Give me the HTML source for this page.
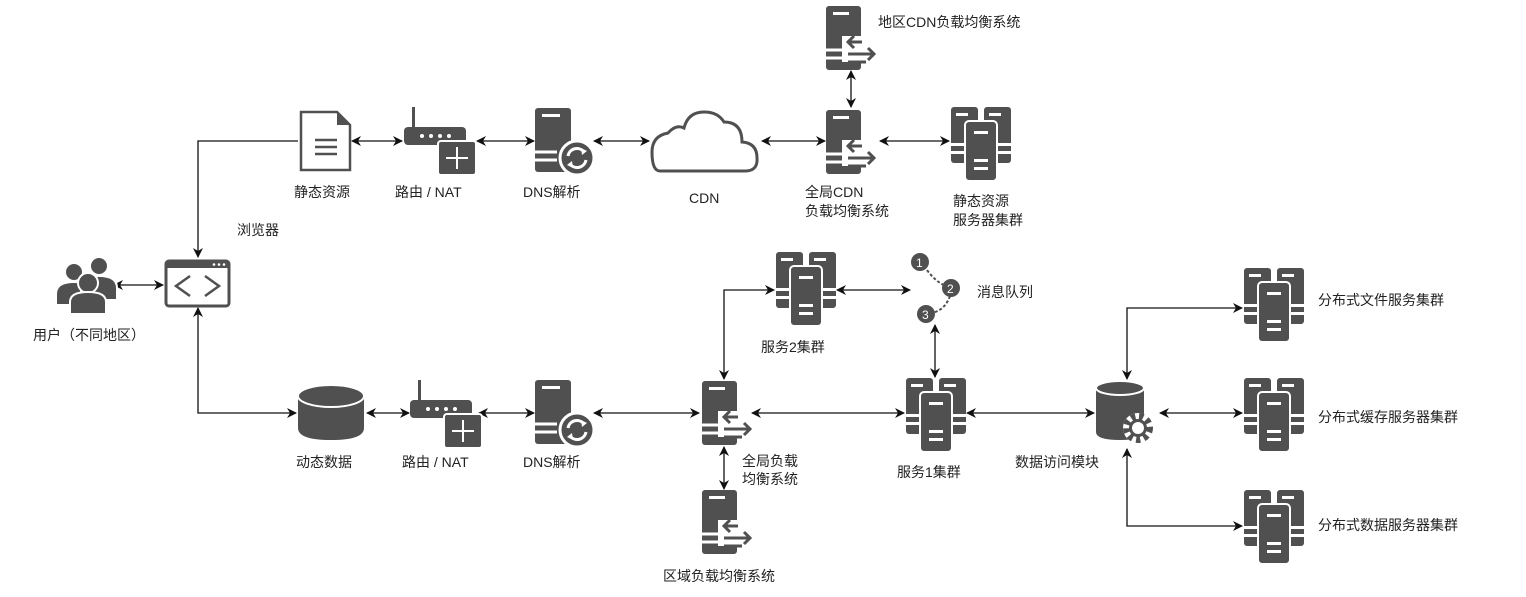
<!DOCTYPE html>
<html><head><meta charset="utf-8"><style>
html,body{margin:0;padding:0;background:#fff;}
svg{display:block;}
text{font-family:"Liberation Sans","Noto Sans CJK SC",sans-serif;font-size:14px;fill:#222;}
</style></head><body>
<svg width="1526" height="597" viewBox="0 0 1526 597" xmlns="http://www.w3.org/2000/svg">
<defs>
<marker id="a" markerWidth="10" markerHeight="10" refX="9" refY="5" orient="auto-start-reverse" markerUnits="userSpaceOnUse">
<path d="M0,0 L10,5 L0,10 L3,5 Z" fill="#111"/></marker>
<g id="cl">
<rect x="0" y="0" width="27" height="56" rx="3" fill="#505050"/>
<rect x="33" y="0" width="27" height="56" rx="3" fill="#505050"/>
<rect x="5" y="6" width="12" height="3" fill="#fff"/><rect x="38" y="6" width="12" height="3" fill="#fff"/>
<rect x="0" y="36" width="14" height="3" fill="#fff"/><rect x="0" y="44" width="14" height="3" fill="#fff"/>
<rect x="46" y="36" width="14" height="3" fill="#fff"/><rect x="46" y="44" width="14" height="3" fill="#fff"/>
<rect x="14" y="14" width="32" height="60" rx="4" fill="#505050" stroke="#fff" stroke-width="2"/>
<rect x="23" y="24" width="14" height="3" fill="#fff"/>
<rect x="23" y="52" width="14" height="3" fill="#fff"/><rect x="23" y="60" width="14" height="3" fill="#fff"/>
</g>
<g id="lb">
<rect x="0" y="0" width="35" height="64" rx="3" fill="#505050"/>
<rect x="7" y="6" width="16" height="3" fill="#fff"/>
<rect x="16" y="30" width="28" height="26" fill="#fff"/>
<path d="M0,44 H22 M0,52 H22" stroke="#fff" stroke-width="3"/>
<path d="M36,36 H22 M28,30 L22,36 L28,42" stroke="#505050" stroke-width="3" fill="none"/>
<path d="M22,48 H48 M42,42 L48,48 L42,54" stroke="#505050" stroke-width="3" fill="none"/>
<path d="M22,56 H40" stroke="#505050" stroke-width="3"/>
</g>
<g id="dns">
<rect x="0" y="0" width="36" height="64" rx="3" fill="#505050"/>
<rect x="7" y="6" width="18" height="3" fill="#fff"/>
<path d="M0,44 H22 M0,52 H22" stroke="#fff" stroke-width="3"/>
<circle cx="42" cy="50" r="17" fill="#505050" stroke="#fff" stroke-width="3"/>
<path d="M33,48 A9,9 0 0 1 49,44" stroke="#fff" stroke-width="3" fill="none"/>
<path d="M51,52 A9,9 0 0 1 35,56" stroke="#fff" stroke-width="3" fill="none"/>
<path d="M46,40 L52,43 L47,47 Z M38,60 L32,57 L37,53 Z" fill="#fff"/>
</g>
<g id="rt">
<rect x="0" y="20" width="62" height="18" rx="4" fill="#505050"/>
<rect x="8" y="0" width="3" height="22" fill="#505050"/>
<circle cx="18" cy="29" r="2" fill="#fff"/><circle cx="27" cy="29" r="2" fill="#fff"/><circle cx="36" cy="29" r="2" fill="#fff"/><circle cx="45" cy="29" r="2" fill="#fff"/>
<rect x="34" y="34" width="38" height="34" rx="3" fill="#505050" stroke="#fff" stroke-width="2"/>
<path d="M53,40 V62 M42,51 H64" stroke="#fff" stroke-width="2"/>
</g>
</defs>

<g stroke="#111" stroke-width="1.3" fill="none">
<path d="M114,285 H163" marker-start="url(#a)" marker-end="url(#a)"/>
<path d="M298,141 H198 V257" marker-end="url(#a)"/>
<path d="M198,308 V413 H296" marker-start="url(#a)" marker-end="url(#a)"/>
<path d="M352,141 H402" marker-start="url(#a)" marker-end="url(#a)"/>
<path d="M477,141 H534" marker-start="url(#a)" marker-end="url(#a)"/>
<path d="M594,141 H649" marker-start="url(#a)" marker-end="url(#a)"/>
<path d="M762,141 H825" marker-start="url(#a)" marker-end="url(#a)"/>
<path d="M880,141 H949" marker-start="url(#a)" marker-end="url(#a)"/>
<path d="M851,71 V107" marker-start="url(#a)" marker-end="url(#a)"/>
<path d="M367,413 H409" marker-start="url(#a)" marker-end="url(#a)"/>
<path d="M479,413 H534" marker-start="url(#a)" marker-end="url(#a)"/>
<path d="M594,413 H699" marker-start="url(#a)" marker-end="url(#a)"/>
<path d="M752,413 H904" marker-start="url(#a)" marker-end="url(#a)"/>
<path d="M967,413 H1094" marker-start="url(#a)" marker-end="url(#a)"/>
<path d="M1160,413 H1242" marker-start="url(#a)" marker-end="url(#a)"/>
<path d="M724,379 V290 H774" marker-start="url(#a)" marker-end="url(#a)"/>
<path d="M837,290 H910" marker-start="url(#a)" marker-end="url(#a)"/>
<path d="M935,325 V377" marker-start="url(#a)" marker-end="url(#a)"/>
<path d="M724,447 V489" marker-start="url(#a)" marker-end="url(#a)"/>
<path d="M1127,379 V308 H1242" marker-start="url(#a)" marker-end="url(#a)"/>
<path d="M1127,449 V526 H1242" marker-start="url(#a)" marker-end="url(#a)"/>
</g>

<g fill="#505050" stroke="#fff" stroke-width="2">
<circle cx="74" cy="272" r="9"/><path d="M56,305 V294 Q56,282 74,282 Q92,282 92,294 V305 Z"/>
<circle cx="99" cy="266" r="9"/><path d="M81,300 V288 Q81,276 99,276 Q117,276 117,288 V300 Z"/>
<circle cx="88" cy="283" r="10"/><path d="M70,314 V302 Q70,292 88,292 Q106,292 106,302 V314 Z"/>
</g>
<text x="33" y="340">用户（不同地区）</text>

<rect x="166" y="261" width="63" height="45" rx="3" fill="#fff" stroke="#505050" stroke-width="3"/>
<rect x="166" y="261" width="63" height="7" fill="#505050"/>
<circle cx="214" cy="264.5" r="1.3" fill="#fff"/><circle cx="219" cy="264.5" r="1.3" fill="#fff"/><circle cx="224" cy="264.5" r="1.3" fill="#fff"/>
<path d="M190,276 L176,286 L190,296 M205,276 L219,286 L205,296" stroke="#505050" stroke-width="2.5" fill="none"/>
<text x="237" y="235">浏览器</text>

<path d="M301,112 H337 L350,125 V170 H301 Z" fill="#fff" stroke="#505050" stroke-width="2.5"/>
<path d="M337,112 V125 H350 Z" fill="#505050"/>
<path d="M315,140 H337 M315,147 H337 M315,154 H337" stroke="#505050" stroke-width="2.5"/>
<text x="294" y="197">静态资源</text>

<use href="#rt" x="404" y="107"/>
<text x="395" y="197">路由 / NAT</text>
<use href="#dns" x="535" y="108"/>
<text x="523" y="197">DNS解析</text>

<path d="M660,171 H745 Q758,171 757,158 Q757,143 742,142 Q742,122 724,122 Q718,112 704,112 Q688,112 684,128 Q676,124 668,133 Q652,136 652,152 Q652,171 660,171 Z" fill="#fff" stroke="#505050" stroke-width="3"/>
<text x="689" y="203">CDN</text>

<use href="#lb" x="826" y="6"/>
<text x="878" y="27">地区CDN负载均衡系统</text>
<use href="#lb" x="826" y="110"/>
<text x="805" y="197">全局CDN</text>
<text x="805" y="216">负载均衡系统</text>
<use href="#cl" x="951" y="107"/>
<text x="953" y="206">静态资源</text>
<text x="953" y="225">服务器集群</text>

<path d="M298,396 V428 Q298,440 331,440 Q364,440 364,428 V396 Z" fill="#505050"/>
<ellipse cx="331" cy="396" rx="33" ry="11" fill="#505050" stroke="#fff" stroke-width="2"/>
<text x="296" y="467">动态数据</text>
<use href="#rt" x="410" y="380"/>
<text x="402" y="467">路由 / NAT</text>
<use href="#dns" x="535" y="380"/>
<text x="523" y="467">DNS解析</text>

<use href="#lb" x="702" y="381"/>
<text x="742" y="466">全局负载</text>
<text x="742" y="484">均衡系统</text>
<use href="#lb" x="702" y="490"/>
<text x="663" y="581">区域负载均衡系统</text>

<use href="#cl" x="776" y="252"/>
<text x="761" y="352">服务2集群</text>

<path d="M924,266 Q935,282 946,286 M950,296 Q945,310 932,313" stroke="#505050" stroke-width="2" stroke-dasharray="3,2" fill="none"/>
<circle cx="920" cy="262" r="9" fill="#505050"/><text x="916" y="267" style="fill:#fff;font-size:12px">1</text>
<circle cx="951" cy="288" r="9" fill="#505050"/><text x="947" y="293" style="fill:#fff;font-size:12px">2</text>
<circle cx="926" cy="314" r="9" fill="#505050"/><text x="922" y="319" style="fill:#fff;font-size:12px">3</text>
<text x="977" y="297">消息队列</text>

<use href="#cl" x="906" y="378"/>
<text x="897" y="477">服务1集群</text>

<path d="M1096,388 V432 Q1096,440 1120,440 Q1144,440 1144,432 V388 Z" fill="#505050"/>
<ellipse cx="1120" cy="388" rx="24" ry="7" fill="#505050" stroke="#fff" stroke-width="2"/>
<circle cx="1138" cy="428" r="15" fill="#fff"/>
<circle cx="1138" cy="428" r="11" fill="none" stroke="#505050" stroke-width="8" stroke-dasharray="4,3.5"/>
<circle cx="1138" cy="428" r="9" fill="#505050"/>
<circle cx="1138" cy="428" r="6" fill="#fff"/>
<text x="1015" y="467">数据访问模块</text>

<use href="#cl" x="1244" y="268"/>
<text x="1318" y="305">分布式文件服务集群</text>
<use href="#cl" x="1244" y="378"/>
<text x="1318" y="422">分布式缓存服务器集群</text>
<use href="#cl" x="1244" y="490"/>
<text x="1318" y="530">分布式数据服务器集群</text>
</svg>
</body></html>
